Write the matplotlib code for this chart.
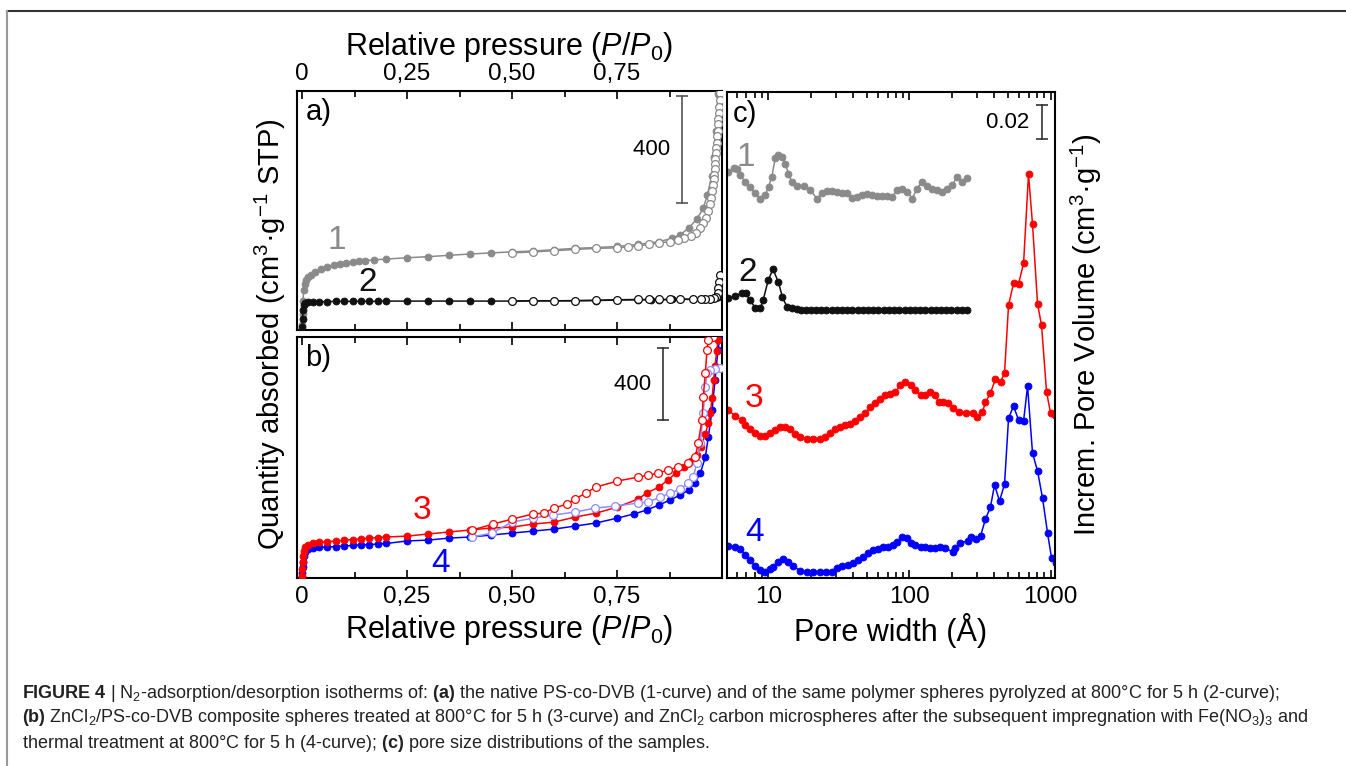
import matplotlib.pyplot as plt
from matplotlib.lines import Line2D
from matplotlib.ticker import FixedLocator, LogLocator, NullFormatter

plt.rcParams['font.family'] = ['Liberation Sans', 'DejaVu Sans']
plt.rcParams['mathtext.fontset'] = 'custom'
plt.rcParams['mathtext.rm'] = 'Liberation Sans'
plt.rcParams['mathtext.it'] = 'Liberation Sans:italic'
plt.rcParams['mathtext.bf'] = 'Liberation Sans:bold'

# ---- isotherms, sample 1 (native PS-co-DVB) ----
p1_ads = [0.0005, 0.001, 0.002, 0.004, 0.007, 0.01, 0.015, 0.02, 0.03, 0.045, 0.06, 0.075,
          0.09, 0.105, 0.12, 0.135, 0.15, 0.17, 0.2, 0.25, 0.3, 0.35, 0.4, 0.45, 0.5, 0.55,
          0.6, 0.65, 0.7, 0.75, 0.8, 0.85, 0.88, 0.9, 0.92, 0.94, 0.955, 0.965, 0.975, 0.98,
          0.985, 0.99]
v1_ads = [20, 60, 110, 150, 170, 185, 197, 205, 215, 228, 236, 242, 247, 251, 254, 257, 259,
          262, 265, 270, 274, 279, 284, 288, 292, 295, 300, 305, 308, 312, 320, 330, 342, 356,
          380, 415, 455, 505, 575, 645, 745, 880]
p1_des = [0.995, 0.994, 0.993, 0.992, 0.991, 0.990, 0.989, 0.988, 0.987, 0.986, 0.985, 0.984,
          0.983, 0.982, 0.981, 0.98, 0.978, 0.976, 0.973, 0.97, 0.966, 0.961, 0.955, 0.947,
          0.937, 0.925, 0.91, 0.895, 0.875, 0.85, 0.825, 0.8, 0.775, 0.75, 0.7, 0.65, 0.6,
          0.55, 0.5]
v1_des = [885, 860, 835, 810, 790, 770, 745, 725, 700, 680, 660, 640, 620, 600, 580, 565, 540,
          520, 495, 470, 445, 420, 400, 380, 362, 350, 342, 336, 330, 325, 320, 314, 310, 307,
          305, 301, 296, 292, 288]

# ---- sample 2 (pyrolyzed spheres) ----
p2_ads = [0.0005, 0.001, 0.002, 0.004, 0.008, 0.015, 0.025, 0.04, 0.06, 0.08, 0.1, 0.12, 0.14,
          0.16, 0.18, 0.2, 0.25, 0.3, 0.35, 0.4, 0.45, 0.5, 0.55, 0.6, 0.65, 0.7, 0.75, 0.8,
          0.83, 0.85, 0.88, 0.9, 0.93, 0.95, 0.97, 0.98, 0.99]
v2_ads = [10, 40, 75, 92, 100, 103, 105, 106, 106, 107, 107, 107, 107, 107, 107, 108, 108, 108,
          108, 108, 108, 108, 109, 109, 109, 110, 112, 113, 113, 113, 114, 114, 115, 116, 117,
          118, 122]
p2_des = [0.995, 0.993, 0.991, 0.99, 0.985, 0.98, 0.97, 0.96, 0.95, 0.93, 0.9, 0.875, 0.85,
          0.825, 0.8, 0.75, 0.7, 0.65, 0.6, 0.55, 0.5]
v2_des = [206, 180, 157, 138, 122, 118, 116, 116, 115, 115, 115, 114, 114, 114, 114, 113, 111,
          110, 109, 109, 108]

# ---- sample 3 (ZnCl2/PS-co-DVB) ----
p3_ads = [0.0, 0.0005, 0.001, 0.002, 0.004, 0.008, 0.015, 0.025, 0.04, 0.06, 0.08, 0.1, 0.12,
          0.14, 0.16, 0.18, 0.2, 0.25, 0.3, 0.35, 0.4, 0.45, 0.5, 0.55, 0.6, 0.65, 0.7, 0.75,
          0.8, 0.82, 0.85, 0.87, 0.89, 0.91, 0.925, 0.94, 0.95, 0.96, 0.967, 0.972, 0.976,
          0.98, 0.983, 0.987, 0.99]
v3_ads = [10, 50, 90, 120, 150, 172, 185, 194, 198, 202, 206, 210, 214, 218, 222, 225, 228,
          233, 245, 256, 267, 278, 283, 300, 311, 339, 361, 394, 439, 472, 506, 544, 583, 617,
          650, 683, 730, 800, 860, 920, 1000, 1100, 1180, 1260, 1322]
p3_des = [0.979, 0.967, 0.964, 0.960, 0.955, 0.952, 0.943, 0.936, 0.919, 0.895, 0.87, 0.848,
          0.824, 0.8, 0.75, 0.7, 0.675, 0.65, 0.63, 0.6, 0.575, 0.55, 0.5, 0.455, 0.405]
v3_des = [1339, 1322, 1267, 1139, 1006, 878, 750, 672, 639, 617, 600, 583, 572, 561, 539, 506,
          472, 439, 411, 389, 361, 356, 328, 300, 267]

# ---- sample 4 (Fe(NO3)3 impregnated) ----
p4_ads = [0.0, 0.0005, 0.001, 0.002, 0.004, 0.008, 0.015, 0.025, 0.04, 0.06, 0.08, 0.1, 0.12,
          0.14, 0.16, 0.18, 0.2, 0.25, 0.3, 0.35, 0.4, 0.45, 0.5, 0.55, 0.6, 0.65, 0.7, 0.75,
          0.79, 0.82, 0.85, 0.875, 0.9, 0.92, 0.935, 0.948, 0.96, 0.967, 0.976, 0.983, 0.99,
          0.995]
v4_ads = [5, 30, 60, 90, 120, 145, 160, 167, 170, 172, 175, 178, 181, 184, 186, 189, 192, 206,
          211, 222, 228, 239, 250, 261, 272, 289, 306, 333, 356, 378, 406, 433, 461, 489, 528,
          583, 672, 783, 933, 1100, 1267, 1339]
p4_des = [0.995, 0.983, 0.971, 0.964, 0.96, 0.955, 0.948, 0.94, 0.931, 0.919, 0.9, 0.876,
          0.852, 0.824, 0.8, 0.745, 0.698, 0.65, 0.598, 0.55, 0.5, 0.452, 0.405]
v4_des = [1167, 1161, 1156, 1139, 1061, 917, 750, 639, 561, 528, 494, 472, 450, 422, 417, 400,
          389, 367, 350, 333, 311, 250, 228]

# ---- pore size distributions (dV, cm3/g), stacked with offsets ----
w1 = [5.22, 5.68, 6.0, 6.33, 6.87, 7.45, 8.08, 8.77, 9.52, 10.05, 10.6, 11.2, 11.8, 12.5, 13.2,
      13.9, 14.7, 16.0, 17.8, 19.9, 22.1, 24.0, 26.1, 28.3, 30.7, 33.3, 36.1, 39.2, 42.6,
      46.2, 50.1, 54.4, 59.0, 64.0, 69.5, 75.4, 81.8, 88.8, 96.3, 105, 113, 123, 134, 145,
      157, 171, 185, 201, 218, 236, 257]
dv1 = [0.0390, 0.0410, 0.0404, 0.0371, 0.0331, 0.0302, 0.0263, 0.0233, 0.0253, 0.0302, 0.0361,
       0.0469, 0.0488, 0.0478, 0.0439, 0.0380, 0.0331, 0.0306, 0.0306, 0.0282, 0.0233, 0.0263,
       0.0276, 0.0278, 0.0273, 0.0267, 0.0263, 0.0239, 0.0243, 0.0253, 0.0259, 0.0253, 0.0247,
       0.0247, 0.0247, 0.0243, 0.0282, 0.0292, 0.0273, 0.0233, 0.0292, 0.0331, 0.0306, 0.0292,
       0.0282, 0.0273, 0.0292, 0.0312, 0.0361, 0.0331, 0.0351]

w2 = [5.2, 5.8, 6.5, 6.9, 7.45, 8.1, 8.8, 9.2, 10.0, 10.8, 11.8, 12.6, 13.6, 14.8, 15.9, 17.2,
      18.6, 20.0, 21.8, 23.7, 25.8, 28.1, 30.6, 33.3, 36.3, 39.5, 43.0, 46.8, 51.0, 55.5,
      60.4, 65.8, 71.6, 78.0, 84.9, 92.4, 100.6, 109.5, 119.2, 129.8, 141.3, 153.8, 167.5,
      182.3, 198.5, 216.1, 235.3, 256]
dv2 = [0.0067, 0.0079, 0.0096, 0.0096, 0.0055, 0.0008, 0.0008, 0.0055, 0.0173, 0.0238, 0.0161,
       0.0073, 0.0014, 0.0008, 0.0003, 0.0, 0.0, 0.0, 0.0, 0.0, 0.0, 0.0, 0.0, 0.0, 0.0, 0.0,
       0.0, 0.0, 0.0, 0.0, 0.0, 0.0, 0.0, 0.0, 0.0, 0.0, 0.0, 0.0, 0.0, 0.0, 0.0, 0.0, 0.0,
       0.0, 0.0, 0.0, 0.0, 0.0]

w3 = [5.20, 5.84, 6.54, 6.87, 7.45, 8.08, 8.77, 9.52, 10.3, 11.2, 12.2, 13.2, 14.3, 15.5, 16.9,
      18.9, 20.9, 23.4, 25.4, 27.5, 29.9, 32.4, 35.2, 38.2, 41.4, 44.9, 48.7, 52.9, 57.4,
      62.3, 67.6, 73.3, 79.6, 86.3, 93.7, 102, 110, 120, 130, 141, 153, 161, 174, 189, 205,
      223, 250, 280, 303, 329, 346, 375, 407, 442, 472, 504, 547, 593, 644, 698, 745, 809,
      863, 937, 1000, 1067]
dv3 = [0.0188, 0.0153, 0.0129, 0.0100, 0.0076, 0.0053, 0.0035, 0.0035, 0.0053, 0.0071, 0.0088,
       0.0088, 0.0076, 0.0047, 0.0029, 0.0018, 0.0018, 0.0018, 0.0029, 0.0053, 0.0076, 0.0088,
       0.0100, 0.0106, 0.0124, 0.0147, 0.0171, 0.0206, 0.0229, 0.0253, 0.0276, 0.0282, 0.0294,
       0.0335, 0.0353, 0.0335, 0.0306, 0.0276, 0.0276, 0.0294, 0.0276, 0.0235, 0.0235, 0.0229,
       0.0200, 0.0176, 0.0171, 0.0171, 0.0147, 0.0176, 0.0235, 0.0288, 0.0371, 0.0353, 0.0406,
       0.0806, 0.0935, 0.0929, 0.1053, 0.1576, 0.1282, 0.0812, 0.0688, 0.0294, 0.0171, 0.0159]

w4 = [5.20, 5.84, 6.33, 6.87, 7.45, 8.08, 8.77, 9.52, 10.3, 10.85, 11.8, 12.8, 13.9, 15.0, 16.9,
      18.9, 20.9, 23.4, 25.8, 28.4, 30.8, 33.5, 36.9, 40.1, 43.5, 47.2, 51.2, 55.6, 60.3,
      65.4, 71.0, 77.0, 82.2, 89.2, 96.8, 102, 110, 120, 130, 141, 153, 166, 180, 202, 212,
      230, 258, 271, 294, 319, 346, 375, 401, 435, 472, 504, 547, 593, 644, 687, 745, 809,
      877, 952, 1016, 1084]
dv4 = [0.0188, 0.0182, 0.0171, 0.0135, 0.0106, 0.0071, 0.0047, 0.0035, 0.0053, 0.0065, 0.0094,
       0.0112, 0.0094, 0.0071, 0.0041, 0.0035, 0.0035, 0.0035, 0.0035, 0.0035, 0.0059, 0.0071,
       0.0076, 0.0088, 0.0106, 0.0124, 0.0147, 0.0165, 0.0171, 0.0182, 0.0182, 0.0194, 0.0212,
       0.0241, 0.0235, 0.0206, 0.0194, 0.0182, 0.0182, 0.0176, 0.0176, 0.0182, 0.0176, 0.0153,
       0.0176, 0.0206, 0.0218, 0.0241, 0.0229, 0.0247, 0.0347, 0.0418, 0.0547, 0.0453, 0.0553,
       0.0941, 0.1012, 0.0929, 0.0924, 0.1129, 0.0735, 0.0629, 0.0471, 0.0265, 0.0118, 0.0088]

psd_offsets = [0.20, 0.158, 0.08, 0.0]

GRAY = '#8a8a8a'
BLACK = '#111111'
RED = '#ff0000'
BLUE = '#0000ff'
LIGHTBLUE = '#8c8cff'

fig = plt.figure(figsize=(13.46, 7.66), dpi=100)
ax_a = fig.add_axes([0.2207, 0.5692, 0.3158, 0.3120])
ax_b = fig.add_axes([0.2207, 0.2454, 0.3158, 0.3146])
ax_c = fig.add_axes([0.5401, 0.2454, 0.2437, 0.6345])


def isotherm(ax, p_ads, v_ads, p_des, v_des, color, des_color):
    ax.plot(p_ads, v_ads, '-o', color=color, lw=1.1, ms=5, mfc=color, mec=color, mew=0.6,
            zorder=3)
    ax.plot(p_des, v_des, '-o', color=des_color, lw=1.1, ms=5.6, mfc='white', mec=des_color,
            mew=0.9, zorder=4)


def scale_bar(ax, x, y0, y1, text, color):
    ax.plot([x, x], [y0, y1], color=color, lw=1.2)
    ax.plot([x], [y0], marker='_', ms=9, mew=1.2, color=color)
    ax.plot([x], [y1], marker='_', ms=9, mew=1.2, color=color)
    ax.text(x, (y0 + y1) / 2, text + '  ', ha='right', va='center', fontsize=16)


isotherm(ax_a, p1_ads, v1_ads, p1_des, v1_des, GRAY, GRAY)
isotherm(ax_a, p2_ads, v2_ads, p2_des, v2_des, BLACK, BLACK)
isotherm(ax_b, p4_ads, v4_ads, p4_des, v4_des, BLUE, LIGHTBLUE)
isotherm(ax_b, p3_ads, v3_ads, p3_des, v3_des, RED, RED)

ax_a.set_ylim(0, 893)
ax_b.set_ylim(0, 1340)
scale_bar(ax_a, 0.905, 475, 875, '400', '#555555')
scale_bar(ax_b, 0.86, 878, 1278, '400', '#333333')

ax_a.text(0.083, 336, '1', color=GRAY, fontsize=24, ha='center', va='center')
ax_a.text(0.155, 176, '2', color=BLACK, fontsize=24, ha='center', va='center')
ax_b.text(0.286, 378, '3', color=RED, fontsize=24, ha='center', va='center')
ax_b.text(0.329, 83, '4', color=BLUE, fontsize=24, ha='center', va='center')

for ax in (ax_a, ax_b):
    ax.set_xlim(-0.012, 1.0)
    ax.xaxis.set_major_locator(FixedLocator([0, 0.25, 0.5, 0.75]))
    ax.xaxis.set_minor_locator(FixedLocator([0.125, 0.375, 0.625, 0.875]))
    ax.set_xticklabels(['0', '0,25', '0,50', '0,75'])
    ax.set_yticks([])
    ax.tick_params(axis='x', which='both', direction='in', top=True, bottom=True,
                   width=1.2, labelsize=17.5, pad=6)
    ax.tick_params(axis='x', which='major', length=6)
    ax.tick_params(axis='x', which='minor', length=4)

ax_a.tick_params(axis='x', labeltop=True, labelbottom=False, pad=4)
ax_a.xaxis.set_label_position('top')
ax_a.set_xlabel('Relative pressure ($P$/$P_0$)', fontsize=22, labelpad=6)
ax_b.set_xlabel('Relative pressure ($P$/$P_0$)', fontsize=22, labelpad=3)

ax_a.text(0.02, 0.97, 'a)', transform=ax_a.transAxes, fontsize=21, va='top')
ax_b.text(0.02, 0.97, 'b)', transform=ax_b.transAxes, fontsize=21, va='top')

# pore size distributions
psd_sets = [(w1, dv1, GRAY), (w2, dv2, BLACK), (w3, dv3, RED), (w4, dv4, BLUE)]
for (w, dv, color), off in zip(psd_sets, psd_offsets):
    ax_c.plot(w, [d + off for d in dv], '-o', color=color, lw=1.1, ms=5, mfc=color,
              mec=color, mew=0.6)

ax_c.set_xscale('log')
ax_c.set_xlim(5.1, 1075)
ax_c.set_ylim(0, 0.286)
ax_c.set_yticks([])
ax_c.xaxis.set_major_locator(FixedLocator([10, 100, 1000]))
ax_c.set_xticklabels(['10', '100', '1000'])
ax_c.xaxis.set_minor_locator(LogLocator(base=10, subs=range(2, 10)))
ax_c.xaxis.set_minor_formatter(NullFormatter())
ax_c.tick_params(axis='x', which='both', direction='in', top=True, bottom=True, width=1.2,
                 labelsize=17.5, pad=6)
ax_c.tick_params(axis='x', which='major', length=6)
ax_c.tick_params(axis='x', which='minor', length=4)
ax_c.set_xlabel('Pore width (Å)', fontsize=22, labelpad=3)
ax_c.yaxis.set_label_position('right')
ax_c.set_ylabel('Increm. Pore Volume (cm$^3$·g$^{-1}$)', fontsize=21, labelpad=10)
ax_c.text(0.018, 0.984, 'c)', transform=ax_c.transAxes, fontsize=21, va='top')
scale_bar(ax_c, 863, 0.2582, 0.2782, '0.02', '#333333')

ax_c.text(6.98, 0.2476, '1', color=GRAY, fontsize=24, ha='center', va='center')
ax_c.text(7.1, 0.180, '2', color=BLACK, fontsize=24, ha='center', va='center')
ax_c.text(7.96, 0.1059, '3', color=RED, fontsize=24, ha='center', va='center')
ax_c.text(7.96, 0.0265, '4', color=BLUE, fontsize=24, ha='center', va='center')

for ax in (ax_a, ax_b, ax_c):
    for s in ax.spines.values():
        s.set_linewidth(1.5)

fig.text(270 / 1346, 1 - 334.5 / 766, 'Quantity absorbed (cm$^3$·g$^{-1}$ STP)', fontsize=21,
         rotation=90, ha='center', va='center')

# page frame
fig.add_artist(Line2D([7 / 1346, 1.0], [1 - 10.5 / 766] * 2, color='#333333', lw=1.5))
fig.add_artist(Line2D([7 / 1346] * 2, [0, 1 - 10.5 / 766], color='#999999', lw=1.5))

caption = [
    r'$\mathbf{FIGURE\ 4}$ | N$_2$-adsorption/desorption isotherms of: $\mathbf{(a)}$ the native '
    r'PS-co-DVB (1-curve) and of the same polymer spheres pyrolyzed at 800°C for 5 h (2-curve);',
    r'$\mathbf{(b)}$ ZnCl$_2$/PS-co-DVB composite spheres treated at 800°C for 5 h (3-curve) and '
    r'ZnCl$_2$ carbon microspheres after the subsequent impregnation with Fe(NO$_3$)$_3$ and',
    r'thermal treatment at 800°C for 5 h (4-curve); $\mathbf{(c)}$ pore size distributions of '
    r'the samples.',
]
for i, line in enumerate(caption):
    fig.text(22 / 1346, 1 - (693 + 25 * i) / 766, line, fontsize=13, color='#222222',
             ha='left', va='center')

fig.savefig('out.png', dpi=100)
